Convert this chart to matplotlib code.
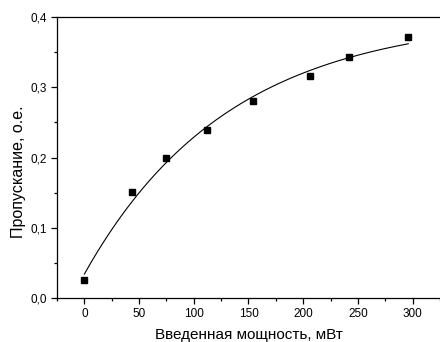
import numpy as np
import matplotlib
matplotlib.use("Agg")
import matplotlib.pyplot as plt
from matplotlib.ticker import FuncFormatter, MultipleLocator

power_mw = [0, 44, 75, 112, 154, 206, 242, 296]
transmission = [0.025, 0.151, 0.200, 0.239, 0.280, 0.316, 0.343, 0.372]

# Exponential saturation fit y = y0 + a * (1 - exp(-x / t)), parameters
fit_y0 = 0.034
fit_a = 0.367
fit_t = 132.0

plt.rcParams["font.family"] = ["Liberation Sans", "DejaVu Sans"]

fig = plt.figure(figsize=(4.4, 3.42), dpi=100)
ax = fig.add_axes([0.1295, 0.1287, 0.8705, 0.8213])

x_fit = np.linspace(power_mw[0], power_mw[-1], 200)
y_fit = fit_y0 + fit_a * (1 - np.exp(-x_fit / fit_t))
ax.plot(x_fit, y_fit, color="black", linewidth=0.8)
ax.plot(power_mw, transmission, linestyle="none", marker="s", markersize=3.8,
        color="black")

ax.set_xlim(-25, 325)
ax.set_ylim(0, 0.4)
ax.xaxis.set_major_locator(MultipleLocator(50))
ax.xaxis.set_minor_locator(MultipleLocator(25))
ax.yaxis.set_major_locator(MultipleLocator(0.1))
ax.yaxis.set_minor_locator(MultipleLocator(0.05))
ax.yaxis.set_major_formatter(FuncFormatter(lambda v, _: f"{v:.1f}".replace(".", ",")))

ax.spines["right"].set_visible(False)
for side in ("left", "bottom", "top"):
    ax.spines[side].set_linewidth(0.9)
ax.tick_params(which="major", direction="out", length=4, width=0.9, labelsize=8.5, pad=3)
ax.tick_params(which="minor", direction="out", length=2, width=0.9)

ax.set_xlabel("Введенная мощность, мВт", fontsize=11, labelpad=6)
ax.set_ylabel("Пропускание, о.е.", fontsize=11.5)
ax.yaxis.set_label_coords(-0.082, 0.45)

fig.savefig("out.png", dpi=100)
